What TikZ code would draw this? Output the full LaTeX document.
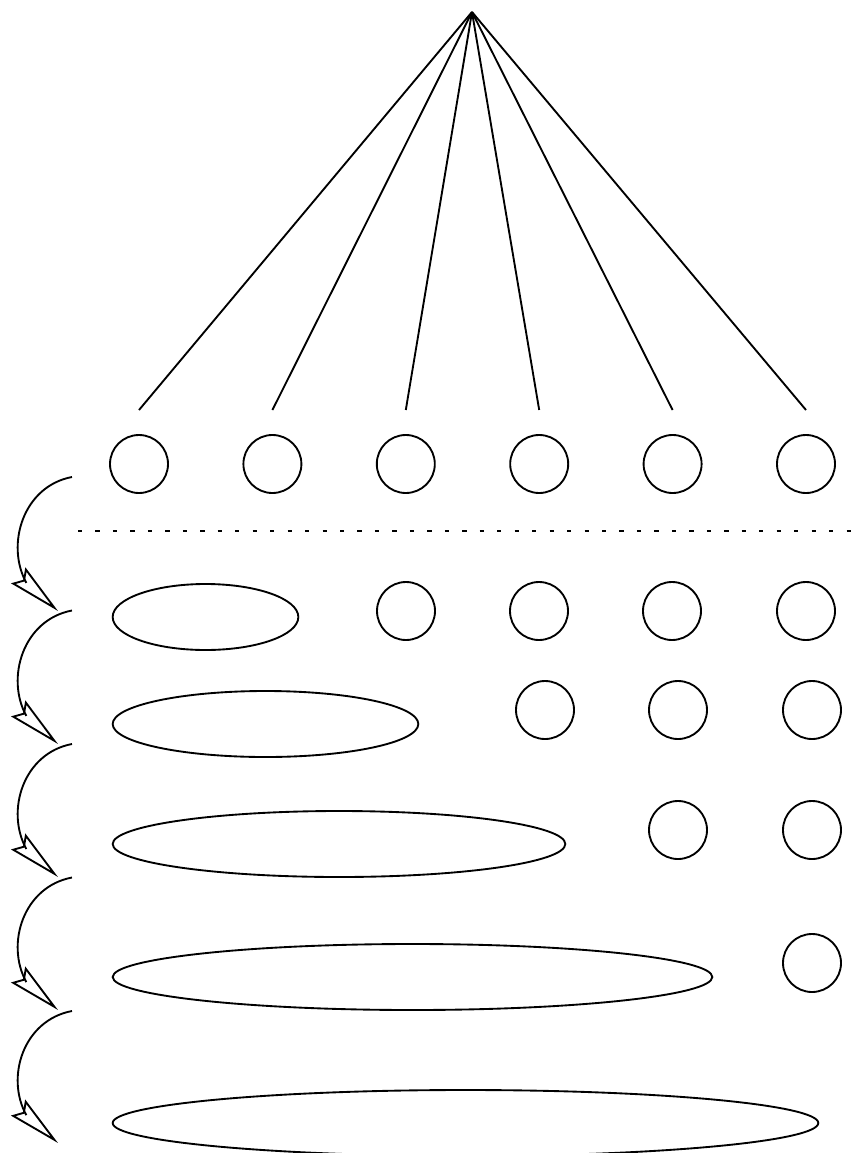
\documentclass[tikz,border=0pt]{standalone}
\usetikzlibrary{calc,shapes.geometric,arrows.meta,bending}

\begin{document}
\begin{tikzpicture}[x=0.75pt,y=-0.75pt,line width=1.4pt,
  unit/.style={draw,circle,inner sep=0pt,minimum size=43.5pt},
  merged/.style={draw,ellipse,inner sep=0pt,minimum height=49.5pt},
  sep/.style={line width=1.3pt,dash pattern=on 3.2pt off 9.9pt},
  merge/.style={-{Stealth[open,length=40pt,width=16pt,inset=5pt,flex]}}]
  \useasboundingbox (0,0) rectangle (852,1153);
  % root and first row
  \coordinate (apex) at (472,12);
  \foreach \i in {1,...,6} {
    \node[unit] (t\i) at ({139+133.4*(\i-1)},464) {};
    \draw (apex) -- ($ (t\i) + (0,-54) $);
  }
  \draw[sep] (78,531) -- (852,531);
  % merged groups
  \foreach \r/\w/\y in {2/187/617, 3/307/724, 4/454/844, 5/601/977, 6/707/1123}
    \node[merged,minimum width=\w*0.75pt-1pt] (m\r) at ({112+\w/2},\y) {};
  % remaining units
  \foreach \n/\x/\y in {a/406/611, b/539/611, c/672/611, d/806/611,
                        e/545/710, f/678/710, g/812/710,
                        h/678/830, i/812/830,
                        j/812/963}
    \node[unit] (u\n) at (\x,\y) {};
  % steps
  \foreach \k in {0,...,4} {
    \coordinate (s\k) at (72,{477+133.5*\k});
    \coordinate (e\k) at (58,{611+133*\k});
    \draw[merge] (s\k) .. controls +(-64,12) and +(-61,-25) .. (e\k);
  }
\end{tikzpicture}
\end{document}
